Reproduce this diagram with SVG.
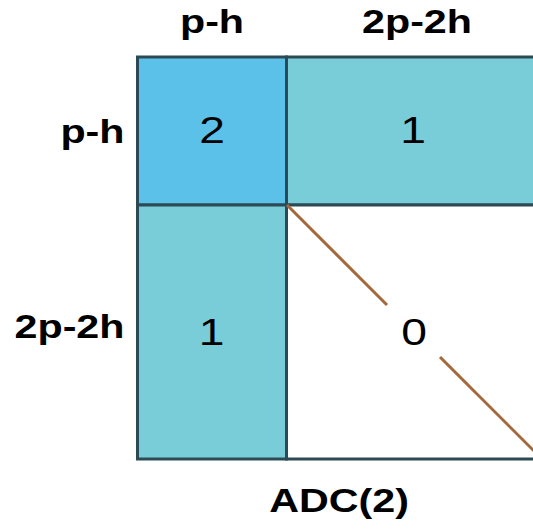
<svg xmlns="http://www.w3.org/2000/svg" width="533" height="532" viewBox="0 0 533 532">
<style>
.lbl{font-family:"Liberation Sans",Arial,sans-serif;font-weight:bold;font-size:33px;fill:#000}
.num{font-family:"Liberation Sans",Arial,sans-serif;font-size:37px;fill:#000;text-anchor:middle}
.blk{stroke:#2c4a55;stroke-width:3}
.diag{stroke:#a5683a;stroke-width:3;fill:none}
</style>
<rect width="533" height="532" fill="#fff"/>
<g id="block-ph-ph">
<rect class="blk" x="137.5" y="57" width="149" height="148" fill="#5bc1e9"/>
<text class="num" transform="translate(212 143) scale(1.25 1)">2</text>
</g>
<g id="block-ph-2p2h">
<rect class="blk" x="286.5" y="57" width="260" height="148" fill="#78cdd9"/>
<text class="num" transform="translate(413 143) scale(1.25 1)">1</text>
</g>
<g id="block-2p2h-ph">
<rect class="blk" x="137.5" y="205" width="149" height="254" fill="#78cdd9"/>
<text class="num" transform="translate(211.5 345) scale(1.25 1)">1</text>
</g>
<g id="block-2p2h-2p2h">
<rect class="blk" x="286.5" y="205" width="260" height="254" fill="#fff"/>
<text class="num" transform="translate(414 345) scale(1.25 1)">0</text>
</g>
<g id="connectors">
<line class="diag" x1="287" y1="205" x2="387" y2="305"/>
<line class="diag" x1="440" y1="357" x2="535" y2="452"/>
</g>
<g id="labels">
<text class="lbl" text-anchor="middle" transform="translate(212 33) scale(1.25 1)">p-h</text>
<text class="lbl" text-anchor="middle" transform="translate(417 33) scale(1.25 1)">2p-2h</text>
<text class="lbl" text-anchor="end" transform="translate(124.5 143) scale(1.25 1)">p-h</text>
<text class="lbl" text-anchor="end" transform="translate(124.5 338) scale(1.25 1)">2p-2h</text>
<text class="lbl" text-anchor="middle" transform="translate(339 512) scale(1.25 1)">ADC(2)</text>
</g>
</svg>
